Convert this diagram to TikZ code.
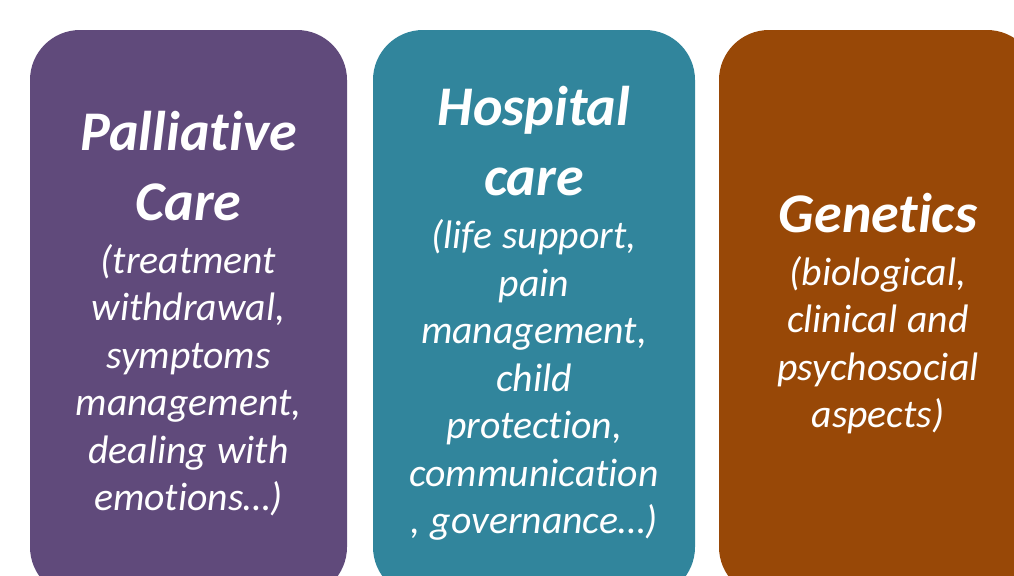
\documentclass[tikz,border=0pt]{standalone}
\usepackage{fontspec}
\setmainfont[Ligatures={NoCommon,NoRequired,NoContextual}]{Carlito}
\definecolor{purp}{HTML}{604A7B}
\definecolor{teal}{HTML}{31859C}
\definecolor{brn}{HTML}{984807}
\newcommand{\ttlf}{\fontsize{42}{52.5}\selectfont\bfseries\itshape\spaceskip=0.26em\relax}
\newcommand{\subf}{\fontsize{29.8}{35.6}\selectfont\mdseries\itshape\spaceskip=0.26em\relax}
\tikzset{
  card/.style={rounded corners=37.5pt, inner sep=0pt, outer sep=0pt, minimum height=425.25pt},
  cardtext/.style={text=white, text width=225pt, align=center, inner sep=0pt}
}
\begin{document}
\begin{tikzpicture}[x=0.75pt,y=-0.75pt]
\useasboundingbox (0,0) rectangle (1014,575);
\clip (0,0) rectangle (1014,575);
\node[card, fill=purp, minimum width=237.75pt] (pal) at (188.5,313.5) {};
\node[card, fill=teal, minimum width=241.5pt] (hos) at (534,313.5) {};
\node[card, fill=brn, minimum width=238.5pt] (gen) at (878,313.5) {};
\node[cardtext] (paltxt) at (pal.center) {{\ttlf Palliative\\Care\par}\vspace{4pt}{\subf (treatment\\withdrawal,\\symptoms\\management,\\dealing with\\emotions…)\par}};
\node[cardtext] (hostxt) at (hos.center) {{\ttlf Hospital\\care\par}\vspace{4pt}{\subf (life support,\\pain\\management,\\child\\protection,\\communication\\, governance…)\par}};
\node[cardtext] (gentxt) at (gen.center) {{\ttlf Genetics\par}\vspace{4pt}{\subf (biological,\\clinical and\\psychosocial\\aspects)\par}};
\end{tikzpicture}
\end{document}
